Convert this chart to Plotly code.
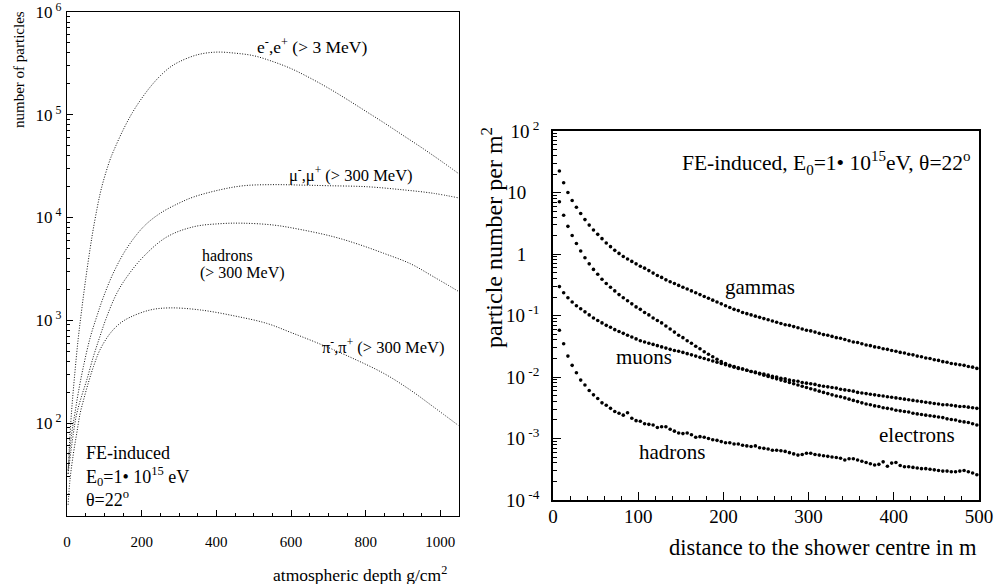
import plotly.graph_objects as go

# ---------------- left panel data (longitudinal profiles) ----------------
e_depth = [3, 6, 12, 20, 30, 40, 50, 62, 70, 80, 88, 97, 115, 125, 150, 175, 200, 225, 250,
           275, 300, 350, 400, 450, 500, 550, 600, 650, 700, 750, 800, 850, 900, 950, 1000, 1050]
e_count = [32, 56, 126, 280, 660, 1320, 2510, 5010, 7590, 12000, 16600, 22400, 36300, 44700,
           70800, 104700, 144500, 190500, 239900, 288400, 327300, 384600, 407400, 398000,
           375800, 331100, 281800, 229100, 182000, 141300, 108400, 83200, 63100, 47900,
           35900, 26600]

mu_depth = [3, 12.6, 21, 30, 44, 62, 80, 97, 124, 160, 205, 249, 300, 339, 410, 473, 550,
            625, 700, 803, 900, 982, 1050]
mu_count = [35, 79, 123, 195, 355, 676, 1096, 1660, 2880, 5010, 8130, 10960, 13800, 15850,
            18620, 20400, 20900, 20700, 20400, 19950, 18600, 17200, 15500]

had_depth = [3, 17, 26, 39, 53, 71, 88, 106, 133, 160, 205, 267, 339, 410, 470, 553, 630,
             714, 780, 848, 920, 982, 1050]
had_count = [32, 79, 123, 182, 263, 447, 692, 1070, 1820, 2630, 4170, 6460, 8130, 8710, 8810,
             8450, 7590, 6500, 5500, 4490, 3550, 2650, 1900]

pi_depth = [3, 8, 17, 26, 35, 44, 57, 71, 88, 115, 142, 169, 223, 276, 357, 450, 535, 600,
            670, 759, 850, 920, 980, 1048]
pi_count = [16, 28, 50, 79, 123, 166, 245, 355, 513, 741, 933, 1070, 1260, 1320, 1260, 1100,
            933, 760, 603, 437, 302, 209, 145, 95]

left_xticks = [0, 200, 400, 600, 800, 1000]
left_yticks = [1e2, 1e3, 1e4, 1e5, 1e6]
left_yticktext = ["10<sup> 2</sup>", "10<sup> 3</sup>", "10<sup> 4</sup>", "10<sup> 5</sup>", "10<sup> 6</sup>"]

# ---------------- right panel data (lateral distributions) ----------------
distance = [7.5 + 5 * i for i in range(99)]  # bin centres, m

gammas_log10 = [
    1.35, 1.16, 1.00, 0.87, 0.76, 0.66, 0.56, 0.47, 0.39, 0.32,
    0.25, 0.18, 0.12, 0.06, 0.01, -0.04, -0.08, -0.12, -0.16, -0.20,
    -0.23, -0.27, -0.31, -0.35, -0.38, -0.42, -0.45, -0.48, -0.51, -0.54,
    -0.57, -0.60, -0.63, -0.66, -0.69, -0.72, -0.75, -0.78, -0.81, -0.84,
    -0.87, -0.90, -0.92, -0.95, -0.97, -0.99, -1.01, -1.03, -1.05, -1.07,
    -1.09, -1.11, -1.13, -1.15, -1.16, -1.18, -1.20, -1.22, -1.24, -1.25,
    -1.27, -1.29, -1.31, -1.32, -1.34, -1.36, -1.37, -1.39, -1.41, -1.43,
    -1.44, -1.46, -1.48, -1.49, -1.51, -1.52, -1.54, -1.55, -1.57, -1.58,
    -1.60, -1.61, -1.63, -1.64, -1.66, -1.67, -1.69, -1.70, -1.72, -1.73,
    -1.75, -1.76, -1.78, -1.79, -1.80, -1.81, -1.83, -1.84, -1.86]

electrons_log10 = [
    0.85, 0.63, 0.45, 0.30, 0.17, 0.05, -0.06, -0.16, -0.25, -0.33,
    -0.41, -0.48, -0.54, -0.60, -0.66, -0.71, -0.76, -0.81, -0.86, -0.90,
    -0.95, -0.99, -1.04, -1.08, -1.12, -1.17, -1.22, -1.27, -1.32, -1.36,
    -1.41, -1.45, -1.50, -1.54, -1.59, -1.63, -1.67, -1.71, -1.75, -1.78,
    -1.81, -1.83, -1.85, -1.87, -1.89, -1.91, -1.93, -1.95, -1.97, -1.99,
    -2.01, -2.03, -2.05, -2.07, -2.09, -2.11, -2.13, -2.15, -2.17, -2.19,
    -2.21, -2.23, -2.25, -2.27, -2.29, -2.31, -2.32, -2.34, -2.36, -2.38,
    -2.40, -2.42, -2.44, -2.45, -2.47, -2.48, -2.50, -2.51, -2.52, -2.54,
    -2.55, -2.56, -2.57, -2.59, -2.60, -2.61, -2.62, -2.63, -2.64, -2.65,
    -2.66, -2.68, -2.69, -2.70, -2.72, -2.73, -2.74, -2.76, -2.78]

muons_log10 = [
    -0.53, -0.63, -0.71, -0.78, -0.84, -0.89, -0.94, -0.99, -1.04, -1.08,
    -1.12, -1.16, -1.19, -1.23, -1.26, -1.29, -1.32, -1.35, -1.38, -1.41,
    -1.43, -1.45, -1.47, -1.49, -1.51, -1.53, -1.55, -1.57, -1.58, -1.60,
    -1.62, -1.64, -1.66, -1.68, -1.70, -1.72, -1.74, -1.76, -1.78, -1.80,
    -1.82, -1.84, -1.86, -1.87, -1.89, -1.91, -1.92, -1.94, -1.95, -1.97,
    -1.99, -2.00, -2.02, -2.03, -2.05, -2.06, -2.07, -2.09, -2.10, -2.11,
    -2.12, -2.14, -2.15, -2.16, -2.17, -2.18, -2.20, -2.21, -2.22, -2.23,
    -2.25, -2.26, -2.27, -2.28, -2.29, -2.30, -2.31, -2.32, -2.33, -2.34,
    -2.35, -2.36, -2.37, -2.38, -2.39, -2.40, -2.41, -2.42, -2.43, -2.44,
    -2.45, -2.45, -2.46, -2.47, -2.48, -2.48, -2.49, -2.50, -2.51]

hadrons_log10 = [
    -1.24, -1.46, -1.66, -1.81, -1.93, -2.05, -2.13, -2.22, -2.29, -2.35,
    -2.42, -2.46, -2.51, -2.56, -2.59, -2.62, -2.58, -2.67, -2.71, -2.72,
    -2.76, -2.77, -2.78, -2.82, -2.81, -2.81, -2.85, -2.88, -2.91, -2.92,
    -2.91, -2.94, -2.98, -2.97, -2.98, -3.00, -3.02, -3.03, -3.05, -3.07,
    -3.07, -3.09, -3.09, -3.11, -3.12, -3.13, -3.12, -3.15, -3.16, -3.17,
    -3.19, -3.19, -3.20, -3.21, -3.23, -3.25, -3.27, -3.26, -3.24, -3.24,
    -3.26, -3.27, -3.28, -3.29, -3.30, -3.31, -3.32, -3.35, -3.33, -3.33,
    -3.35, -3.37, -3.39, -3.41, -3.43, -3.42, -3.38, -3.45, -3.40, -3.39,
    -3.44, -3.46, -3.46, -3.47, -3.48, -3.49, -3.49, -3.50, -3.51, -3.52,
    -3.53, -3.53, -3.54, -3.54, -3.53, -3.52, -3.54, -3.56, -3.59]

right_xticks = [0, 100, 200, 300, 400, 500]
right_yticks = [1e-4, 1e-3, 1e-2, 1e-1, 1, 10, 100]
right_yticktext = ["10<sup> -4</sup>", "10<sup> -3</sup>", "10<sup> -2</sup>", "10<sup> -1</sup>",
                   "1<sup>    </sup>", "10<sup>    </sup>", "10<sup> 2</sup>"]

# ---------------- figure ----------------
W, H = 997, 584
FONT = "Liberation Serif"


def px(x):
    return x / W


def py(y):
    return 1 - y / H


fig = go.Figure()

dot_line = dict(color="#111111", width=1, dash="1px,1.6px")
for d, c in [(e_depth, e_count), (mu_depth, mu_count), (had_depth, had_count), (pi_depth, pi_count)]:
    fig.add_trace(go.Scatter(x=d, y=c, mode="lines", line=dot_line, line_shape="spline",
                             xaxis="x", yaxis="y", showlegend=False, hoverinfo="skip"))

for vals in [gammas_log10, electrons_log10, muons_log10, hadrons_log10]:
    fig.add_trace(go.Scatter(x=distance, y=[10 ** v for v in vals], mode="markers",
                             marker=dict(color="black", size=3.6),
                             xaxis="x2", yaxis="y2", showlegend=False, hoverinfo="skip"))

axis_common = dict(showgrid=False, zeroline=False, showline=True, linecolor="black",
                   mirror=True, ticks="inside", tickcolor="black", automargin=False,
                   ticklabeloverflow="allow")

fig.update_layout(
    width=W, height=H, margin=dict(l=0, r=0, t=0, b=0),
    paper_bgcolor="white", plot_bgcolor="white",
    font=dict(family=FONT, color="black"),
    xaxis=dict(domain=[px(67), px(459)], range=[0, 1050], tickvals=left_xticks,
               ticklen=6, linewidth=1.3, tickfont=dict(size=15, family=FONT), ticklabelstandoff=12,
               minor=dict(ticks="inside", ticklen=3, dtick=50, tickcolor="black"),
               anchor="y", **axis_common),
    yaxis=dict(domain=[py(516), py(12)], type="log", range=[1.095, 6.0005],
               tickvals=left_yticks, ticktext=left_yticktext, ticklen=6, linewidth=1.3,
               tickfont=dict(size=17, family=FONT), ticklabelstandoff=1,
               minor=dict(ticks="inside", ticklen=3, dtick="D1", tickcolor="black"),
               anchor="x", **axis_common),
    xaxis2=dict(domain=[px(553), px(979)], range=[0, 500], tickvals=right_xticks,
                ticklen=8, linewidth=1.5, tickfont=dict(size=19, family=FONT), ticklabelstandoff=-2,
                minor=dict(ticks="inside", ticklen=4, dtick=20, tickcolor="black"),
                anchor="y2", **axis_common),
    yaxis2=dict(domain=[py(500), py(131)], type="log", range=[-4, 2.0005],
                tickvals=right_yticks, ticktext=right_yticktext, ticklen=8, linewidth=1.5,
                tickfont=dict(size=19, family=FONT), ticklabelstandoff=8,
                minor=dict(ticks="inside", ticklen=4, dtick="D1", tickcolor="black"),
                anchor="x2", **axis_common),
)

ann = []


def add_text(text, x, y, size, xanchor="left", angle=0):
    ann.append(dict(text=text, x=px(x), y=py(y), xref="paper", yref="paper",
                    xanchor=xanchor, yanchor="middle", showarrow=False, textangle=angle,
                    font=dict(size=size, family=FONT, color="black")))


# left panel texts
add_text("number of particles", 19, 70, 15, xanchor="center", angle=-90)
add_text("atmospheric depth g/cm<sup>2</sup>", 449, 574, 17.5, xanchor="right")
add_text("e<sup>-</sup>,e<sup>+</sup> (> 3 MeV)", 255, 46, 17.5)
add_text("\u03bc<sup>-</sup>,\u03bc<sup>+</sup> (> 300 MeV)", 287, 175, 16.5)
add_text("hadrons", 200, 255, 16)
add_text("(> 300 MeV)", 198, 273, 16)
add_text("\u03c0<sup>-</sup>,\u03c0<sup>+</sup> (> 300 MeV)", 320, 346, 16.5)
add_text("FE-induced", 84, 453, 18)
add_text("E<sub>0</sub>=1\u2022 10<sup>15</sup> eV", 84, 476, 18)
add_text("\u03b8=22<sup>o</sup>", 84, 498, 18)

# right panel texts
add_text("particle number per m<sup>2</sup>", 492, 238, 24, xanchor="center", angle=-90)
add_text("distance to the shower centre in m", 979, 547, 22.5, xanchor="right")
add_text("FE-induced, E<sub>0</sub>=1\u2022 10<sup>15</sup>eV, \u03b8=22<sup>o</sup>", 680, 163, 21.5)
add_text("gammas", 723, 287, 21)
add_text("muons", 614, 357, 21)
add_text("hadrons", 637, 452, 21)
add_text("electrons", 877, 435, 21)

fig.update_layout(annotations=ann)
fig.write_html("out.html", config={"displayModeBar": False},
               post_script="document.body.style.margin='0px';document.body.style.overflow='hidden';")
